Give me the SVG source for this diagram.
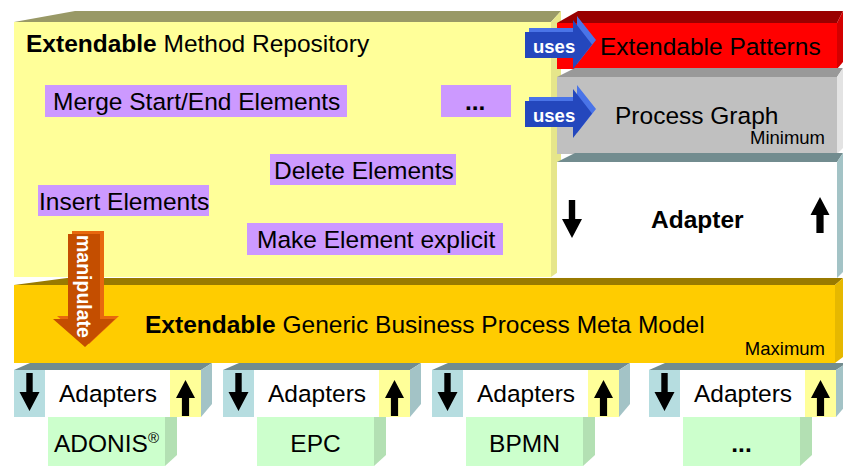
<svg xmlns="http://www.w3.org/2000/svg" width="843" height="466" viewBox="0 0 843 466">
<style>
text{font-family:"Liberation Sans",Arial,sans-serif;fill:#000}
.t24{font-size:24.5px}
.b{font-weight:bold}
.sm{font-size:18.5px}
.purple{fill:#CC99FF}
.w{fill:#fff}
.blue{fill:#B6DDE0}
.ylw{fill:#FFFF99}
.slate{fill:#728C8F}
.side{fill:#A3C3C6}
.green{fill:#CCFFCC}
.gside{fill:#B3E0B3}
.arr{fill:#000}
</style>
<defs>
<path id="down" d="M-3.2,0 H3.2 V19 H10 L0,38 L-10,19 H-3.2 Z"/>
<path id="up" d="M0,0 L9.5,18 H3.6 V36 H-3.6 V18 H-9.5 Z"/>
<g id="usesArrow">
<polygon points="529,28 577,28 577,16 596,40 577,64 577,54 529,54" fill="#4A74E8"/>
<polygon points="525,32 573,32 573,20 592,44.5 573,69 573,58 525,58" fill="#2447BD"/>
</g>
</defs>

<g id="repository">
<polygon points="14,22 75,11 561,11 551,22" fill="#999966"/>
<polygon points="551,22 561,11 561,270 551,277" fill="#E6E68A"/>
<rect x="14" y="22" width="537" height="255" fill="#FFFF99"/>
<text x="26" y="52" class="t24"><tspan class="b">Extendable</tspan> Method Repository</text>
</g>

<g id="op-merge">
<rect x="45" y="85" width="302" height="32" class="purple"/>
<text x="53" y="110" class="t24">Merge Start/End Elements</text>
</g>
<g id="op-more">
<rect x="441" y="85" width="70" height="32" class="purple"/>
<text x="465" y="110" class="t24 b">...</text>
</g>
<g id="op-delete">
<rect x="270" y="154" width="186" height="31" class="purple"/>
<text x="274" y="179" class="t24">Delete Elements</text>
</g>
<g id="op-insert">
<rect x="38" y="185" width="171" height="31" class="purple"/>
<text x="39" y="210" class="t24">Insert Elements</text>
</g>
<g id="op-explicit">
<rect x="247" y="223" width="256" height="32" class="purple"/>
<text x="257" y="248" class="t24">Make Element explicit</text>
</g>

<g id="patterns">
<polygon points="557,23 578,11 843,11 837,23" fill="#990000"/>
<polygon points="837,23 843,11 843,62 837,69" fill="#D40000"/>
<rect x="557" y="23" width="280" height="46" fill="#FF0000"/>
<text x="600" y="55" class="t24">Extendable Patterns</text>
</g>

<g id="process-graph">
<polygon points="557,77 575,68 843,68 837,77" fill="#999999"/>
<polygon points="837,77 843,68 843,148 837,154" fill="#E3E3E3"/>
<rect x="557" y="77" width="280" height="77" fill="#C0C0C0"/>
<text x="615" y="124" class="t24">Process Graph</text>
<text x="825" y="144" class="sm" text-anchor="end">Minimum</text>
</g>

<g id="adapter">
<polygon points="557,162 575,153 843,153 837,162" class="slate"/>
<polygon points="837,162 843,153 843,272 837,278" class="side"/>
<rect x="557" y="162" width="280" height="116" fill="#fff"/>
<text x="651" y="228" class="t24 b">Adapter</text>
<use href="#down" x="572" y="200" class="arr"/>
<use href="#up" x="820" y="197" class="arr"/>
</g>

<g id="meta-model">
<polygon points="14,285 67,278 843,278 835,285" fill="#997A00"/>
<polygon points="835,285 843,278 843,357 835,363" fill="#E6B800"/>
<rect x="14" y="285" width="821" height="78" fill="#FFCC00"/>
<text x="145" y="333" class="t24"><tspan class="b">Extendable</tspan> Generic Business Process Meta Model</text>
<text x="825" y="355" class="sm" text-anchor="end">Maximum</text>
</g>

<g id="adapters-1">
<polygon points="14,370 30,363 212,363 201,370" class="slate"/>
<polygon points="201,370 212,363 212,404 201,417" class="side"/>
<rect x="14" y="370" width="187" height="47" fill="#fff"/>
<rect x="14" y="370" width="31" height="47" class="blue"/>
<rect x="170" y="370" width="31" height="47" class="ylw"/>
<use href="#down" x="29.5" y="373" class="arr"/>
<use href="#up" x="185.5" y="380" class="arr"/>
<text x="59" y="402" class="t24">Adapters</text>
</g>
<g id="adapters-2">
<polygon points="223,370 239,363 421,363 410,370" class="slate"/>
<polygon points="410,370 421,363 421,404 410,417" class="side"/>
<rect x="223" y="370" width="187" height="47" fill="#fff"/>
<rect x="223" y="370" width="31" height="47" class="blue"/>
<rect x="379" y="370" width="31" height="47" class="ylw"/>
<use href="#down" x="238.5" y="373" class="arr"/>
<use href="#up" x="394.5" y="380" class="arr"/>
<text x="268" y="402" class="t24">Adapters</text>
</g>
<g id="adapters-3">
<polygon points="432,370 448,363 630,363 619,370" class="slate"/>
<polygon points="619,370 630,363 630,404 619,417" class="side"/>
<rect x="432" y="370" width="187" height="47" fill="#fff"/>
<rect x="432" y="370" width="31" height="47" class="blue"/>
<rect x="588" y="370" width="31" height="47" class="ylw"/>
<use href="#down" x="447.5" y="373" class="arr"/>
<use href="#up" x="603.5" y="380" class="arr"/>
<text x="477" y="402" class="t24">Adapters</text>
</g>
<g id="adapters-4">
<polygon points="649,370 665,363 847,363 836,370" class="slate"/>
<polygon points="836,370 847,363 847,404 836,417" class="side"/>
<rect x="649" y="370" width="187" height="47" fill="#fff"/>
<rect x="649" y="370" width="31" height="47" class="blue"/>
<rect x="805" y="370" width="31" height="47" class="ylw"/>
<use href="#down" x="664.5" y="373" class="arr"/>
<use href="#up" x="820.5" y="380" class="arr"/>
<text x="694" y="402" class="t24">Adapters</text>
</g>

<g id="adonis">
<polygon points="165,417 177,417 177,455 165,466" class="gside"/>
<rect x="48" y="417" width="117" height="49" class="green"/>
<text x="54" y="452" class="t24">ADONIS<tspan font-size="15" dy="-9">®</tspan></text>
</g>
<g id="epc">
<polygon points="374,417 386,417 386,455 374,466" class="gside"/>
<rect x="257" y="417" width="117" height="49" class="green"/>
<text x="315.5" y="452" class="t24" text-anchor="middle">EPC</text>
</g>
<g id="bpmn">
<polygon points="583,417 595,417 595,455 583,466" class="gside"/>
<rect x="466" y="417" width="117" height="49" class="green"/>
<text x="524.5" y="452" class="t24" text-anchor="middle">BPMN</text>
</g>
<g id="other">
<polygon points="800,417 812,417 812,455 800,466" class="gside"/>
<rect x="683" y="417" width="117" height="49" class="green"/>
<text x="741.5" y="452" class="t24 b" text-anchor="middle">...</text>
</g>

<g id="connectors">
<g id="uses-1">
<use href="#usesArrow"/>
<text x="533" y="53" font-size="18.5" class="b" style="fill:#fff">uses</text>
</g>
<g id="uses-2">
<use href="#usesArrow" y="69"/>
<text x="533" y="122" font-size="18.5" class="b" style="fill:#fff">uses</text>
</g>
<g id="manipulate">
<polygon points="72,231 104,231 104,316 119,316 89,344 57,316 72,316" fill="#E8680E"/>
<polygon points="68,234 100,234 100,319 115,319 85,347 53,319 68,319" fill="#C44E00"/>
<text transform="translate(77,235) rotate(90)" font-size="19.5" class="b" style="fill:#fff">manipulate</text>
</g>
</g>
</svg>
